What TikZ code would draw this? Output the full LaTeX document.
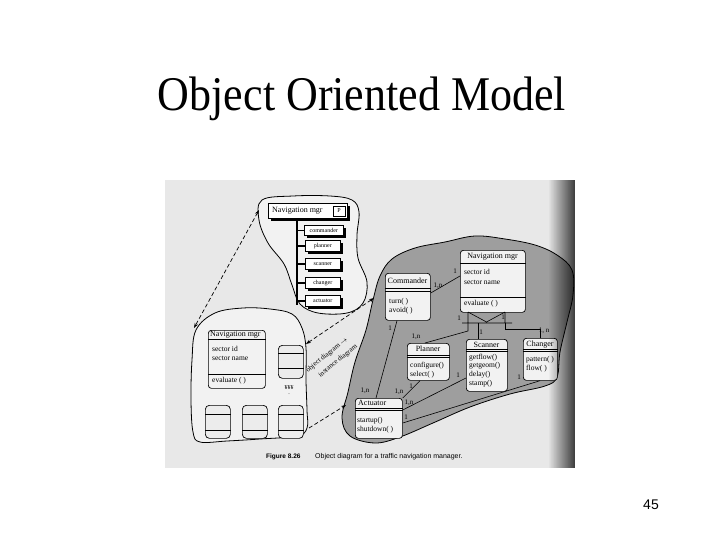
\documentclass[tikz,border=0pt]{standalone}
\usepackage{fontspec}
\usepackage{graphicx}
\setmainfont{Liberation Serif}
\newfontfamily\sansfont{Liberation Sans}
\usetikzlibrary{arrows.meta,calc,shadows,fadings}
\begin{document}
\begin{tikzpicture}[x=1pt,y=-1pt,
  blob/.style={draw=black, line width=0.8pt},
  cls/.style={draw=black, line width=0.7pt, rounded corners=3pt, fill=white!90!gray, inner sep=0, anchor=north west},
  obj/.style={draw=black, line width=0.7pt, rounded corners=4pt, fill=white!85!gray, inner sep=0, anchor=north west, minimum width=25, minimum height=33},
  tbox/.style={draw=black, line width=0.6pt, fill=white, inner sep=0, anchor=north west, minimum width=35, minimum height=11, font=\fontsize{6}{7}\selectfont, drop shadow={shadow xshift=3pt, shadow yshift=-3pt, fill=black, opacity=1}},
  hdr/.style={font=\fontsize{8}{9}\selectfont, inner sep=0},
  txt/.style={font=\fontsize{7.5}{8}\selectfont, inner sep=0, anchor=west},
  lab/.style={font=\fontsize{7}{8}\selectfont, inner sep=0},
  dashline/.style={line width=0.7pt, dash pattern=on 4pt off 2.5pt},
  tip/.style={arrows={-Stealth[length=5pt,width=3.5pt]}},
  conn/.style={line width=0.6pt}
]
\useasboundingbox (0,0) rectangle (720,540);
\fill[white] (0,0) rectangle (720,540);

% title and page number
\node[font=\fontsize{44}{50}\selectfont, anchor=base, inner sep=0] (title) at (362,111) {\scalebox{1}[1.1]{Object Oriented Model}};
\node[font=\sansfont\fontsize{14}{16}\selectfont, anchor=base, inner sep=0] (pnum) at (651,509) {45};

% scanned page
\fill[gray!18] (165,180) rectangle (575,468);

% ---------- top-left blob: class hierarchy ----------
\draw[blob, fill=gray!10] plot[smooth cycle, tension=0.6] coordinates {(262,200) (293,196) (330,196) (352,200) (359,212) (357,235) (358,258) (367,282) (363,303) (347,313) (318,313) (300,304) (292,285) (284,264) (268,243) (259,220)};
\node[tbox, minimum width=79, minimum height=15] (tnav) at (268,203) {};
\node[hdr, anchor=west] (tnavt) at (272,210.5) {Navigation mgr};
\node[draw=black, line width=0.7pt, fill=white, inner sep=0, minimum width=12, minimum height=10, font=\fontsize{6}{7}\selectfont] (tp) at (339,211) {P};
\draw[line width=2.5pt] (tnav.south -| 297,0) -- (297,305);
\node[tbox, minimum width=39, minimum height=10] (tcmd) at (304,225) {commander};
\node[tbox] (tpln) at (305,240) {planner};
\node[tbox] (tscn) at (305,258) {scanner};
\node[tbox] (tchg) at (305,277) {changer};
\node[tbox] (tact) at (305,295) {actuator};
\foreach \n in {tcmd,tpln,tscn,tchg,tact}{\draw[line width=1.5pt] (297,0 |- \n.west) -- (\n.west);}

% ---------- lower-left blob: object instances ----------
\draw[blob, fill=gray!10] plot[smooth cycle, tension=0.6] coordinates {(196,330) (215,313) (243,308) (270,309) (292,314) (302,328) (306,348) (306,380) (307,410) (307,428) (297,436) (260,439) (227,441) (200,442) (193,432) (191,400) (192,360)};
\node[cls, minimum width=57, minimum height=58] (lnav) at (208,330) {};
\draw[line width=0.6pt] ($(lnav.north west)+(0,9)$) -- ($(lnav.north east)+(0,9)$);
\draw[line width=0.6pt] ($(lnav.north west)+(0,44)$) -- ($(lnav.north east)+(0,44)$);
\node[hdr, anchor=west] (lnavh) at (210,334.5) {Navigation mgr};
\node[txt] (lnava1) at (212,349) {sector id};
\node[txt] (lnava2) at (212,358) {sector name};
\node[txt] (lnavm1) at (212,381) {evaluate ( )};
\node[obj] (o1) at (278,345) {};
\node[obj] (o2) at (205,405) {};
\node[obj] (o3) at (242,405) {};
\node[obj] (o4) at (278,405) {};
\draw[line width=0.6pt] (o1.west |- 0,353) -- (o1.east |- 0,353) (o1.west |- 0,368) -- (o1.east |- 0,368);
\foreach \n in {o2,o3,o4}{\draw[line width=0.6pt] (\n.west |- 0,414) -- (\n.east |- 0,414) (\n.west |- 0,430) -- (\n.east |- 0,430);}
\node[lab, font=\fontsize{6}{7}\selectfont] (yen) at (289,388) {¥¥¥};
\node[lab, font=\fontsize{6}{7}\selectfont] (dot) at (289,394) {.};

% ---------- right blob: class diagram ----------
\draw[blob, fill=black!38] plot[smooth cycle, tension=0.6] coordinates {(373,300) (380,276) (392,259) (415,248) (445,242) (475,236) (505,239) (535,245) (557,255) (572,270) (573,295) (567,322) (560,352) (557,377) (545,386) (510,394) (470,407) (433,423) (400,437) (375,443) (350,436) (342,418) (348,392) (355,362) (366,330)};

% Navigation mgr
\node[cls, minimum width=65, minimum height=62] (rnav) at (460,250) {};
\node[hdr] (rnavh) at (492.5,257) {Navigation mgr};
\draw[line width=0.9pt] ($(rnav.north west)+(0,13)$) -- ($(rnav.north east)+(0,13)$);
\node[txt] (rnava1) at (464,272) {sector id};
\node[txt] (rnava2) at (464,282) {sector name};
\draw[line width=0.9pt] ($(rnav.north west)+(0,47)$) -- ($(rnav.north east)+(0,47)$);
\node[txt] (rnavm1) at (464,304) {evaluate ( )};

% Commander
\node[cls, minimum width=45, minimum height=47] (cmd) at (385,273) {};
\node[hdr] (cmdh) at (407.5,281) {Commander};
\draw[line width=0.5pt] ($(cmd.north west)+(0,15)$) -- ($(cmd.north east)+(0,15)$) ($(cmd.north west)+(0,18)$) -- ($(cmd.north east)+(0,18)$);
\node[txt] (cmdm1) at (389,302) {turn( )};
\node[txt] (cmdm2) at (389,311) {avoid( )};

% Planner
\node[cls, minimum width=42, minimum height=37] (pln) at (407,343) {};
\node[hdr] (plnh) at (428,349) {Planner};
\draw[line width=0.5pt] ($(pln.north west)+(0,12)$) -- ($(pln.north east)+(0,12)$) ($(pln.north west)+(0,14.5)$) -- ($(pln.north east)+(0,14.5)$);
\node[txt] (plnm1) at (410,366) {configure()};
\node[txt] (plnm2) at (410,375) {select( )};

% Scanner
\node[cls, minimum width=41, minimum height=52] (scn) at (466,339) {};
\node[hdr] (scnh) at (486.5,344.5) {Scanner};
\draw[line width=0.5pt] ($(scn.north west)+(0,10)$) -- ($(scn.north east)+(0,10)$) ($(scn.north west)+(0,12.5)$) -- ($(scn.north east)+(0,12.5)$);
\node[txt] (scnm1) at (469,357.5) {getflow()};
\node[txt] (scnm2) at (469,366) {getgeom()};
\node[txt] (scnm3) at (469,374.5) {delay()};
\node[txt] (scnm4) at (469,383.5) {stamp()};

% Changer
\node[cls, minimum width=34, minimum height=42] (chg) at (523,338) {};
\node[hdr] (chgh) at (540,344.5) {Changer};
\draw[line width=0.5pt] ($(chg.north west)+(0,11)$) -- ($(chg.north east)+(0,11)$) ($(chg.north west)+(0,13.5)$) -- ($(chg.north east)+(0,13.5)$);
\node[txt] (chgm1) at (526,360) {pattern( )};
\node[txt] (chgm2) at (526,369) {flow( )};

% Actuator
\node[cls, minimum width=47, minimum height=40] (act) at (355,398) {};
\node[hdr, anchor=west] (acth) at (358,403) {Actuator};
\draw[line width=0.5pt] ($(act.north west)+(0,10)$) -- ($(act.north east)+(0,10)$) ($(act.north west)+(0,12.5)$) -- ($(act.north east)+(0,12.5)$);
\node[txt] (actm1) at (357,421) {startup()};
\node[txt] (actm2) at (357,430) {shutdown( )};

% aggregation marker under Navigation mgr
\coordinate (agl) at (468,312);
\coordinate (agr) at (505,312);
\coordinate (agm) at (486.5,322);
\draw[conn] (agl) -- (468,323) (agr) -- (505,323) (agl) -- (agm) -- (agr) (462,323) -- (512,323);
\draw[conn] (468,323) -- (468,331) -- (pln.north -| 425,0);
\draw[conn] (478,323) -- (scn.north -| 478,0);
\draw[conn] (505,323) -- (505,329) -- (540,329) -- (chg.north -| 540,0);

% associations
\draw[conn] (cmd.east |- 0,293) -- (rnav.west |- 0,276);
\draw[conn] (cmd.south -| 397,0) -- (act.north -| 376,0);
\draw[conn] (pln.south -| 420,0) -- (act.north east);
\draw[conn] (scn.west |- 0,378) -- (act.east |- 0,410);
\draw[conn] (chg.south -| 540,0) -- (act.east |- 0,423);

% multiplicities
\node[lab] (m1) at (438,286) {1,n};
\node[lab] (m2) at (455,271) {1};
\node[lab] (m3) at (459,318) {1};
\node[lab] (m4) at (503,317) {1};
\node[lab] (m5) at (416,337) {1,n};
\node[lab] (m6) at (481,332) {1};
\node[lab] (m7) at (544,331) {1, n};
\node[lab] (m8) at (390,328) {1};
\node[lab] (m9) at (365,391) {1,n};
\node[lab] (m10) at (411,386) {1};
\node[lab] (m11) at (399,392) {1,n};
\node[lab] (m12) at (458,375) {1};
\node[lab] (m13) at (409,403) {1,n};
\node[lab] (m14) at (519,377) {1};
\node[lab] (m15) at (406,417) {1};

% dashed mapping arrows
\coordinate (d1a) at (259,210);
\coordinate (d1b) at (194,328);
\coordinate (d2a) at (306,344);
\coordinate (d2b) at (374,298);
\coordinate (d3a) at (309,428);
\coordinate (d3b) at (346,405);
\draw[dashline, arrows={Stealth[length=5pt,width=3.5pt]-Stealth[length=5pt,width=3.5pt]}] (d1a) -- (d1b);
\draw[dashline, arrows={Stealth[length=5pt,width=3.5pt]-Stealth[length=5pt,width=3.5pt]}] (d2a) -- (d2b);
\draw[dashline, tip] (d3a) -- (d3b);
\node[lab, rotate=39] (od) at (327,355) {object diagram $\rightarrow$};
\node[lab, rotate=39] (idg) at (338,361) {instance diagram};

% caption
\node[anchor=base west, inner sep=0, font=\sansfont\bfseries\fontsize{6.5}{7}\selectfont] (figno) at (266,458) {Figure 8.26};
\node[anchor=base west, inner sep=0, font=\sansfont\fontsize{7}{8}\selectfont] (cap) at (315,458) {Object diagram for a traffic navigation manager.};

% darkening at the book spine
\fill[black, path fading=west, fill opacity=0.75] (548,180) rectangle (575,468);
\end{tikzpicture}
\end{document}
